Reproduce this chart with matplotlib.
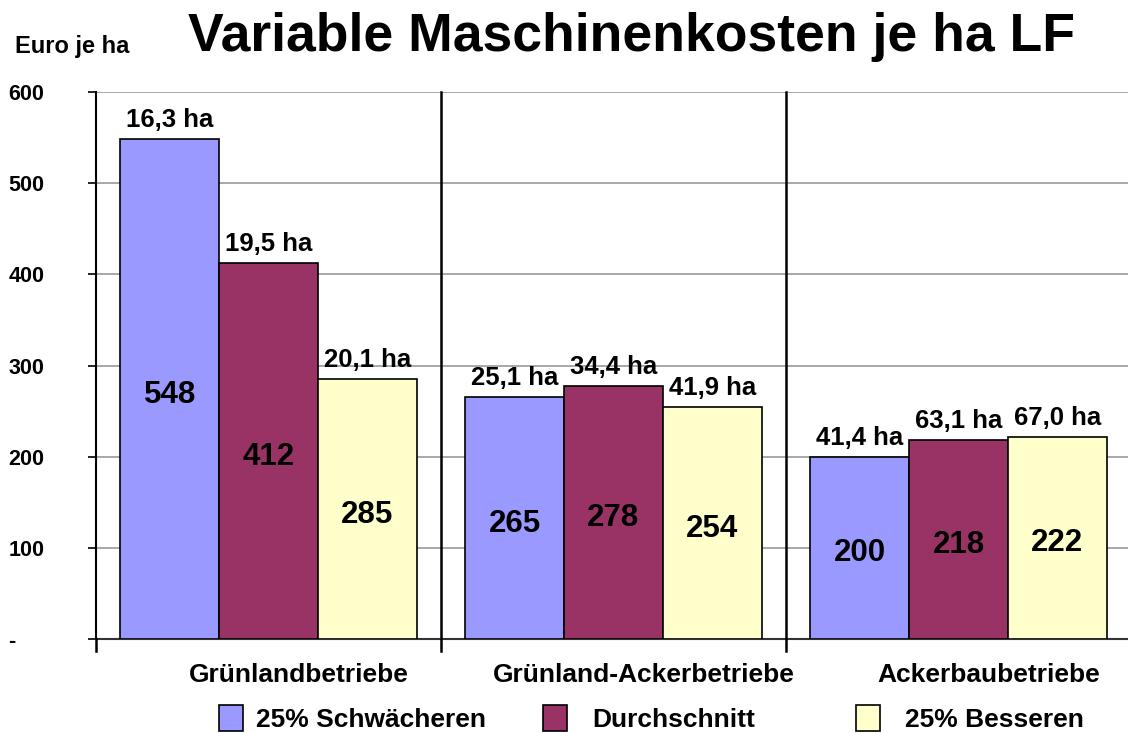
import matplotlib
matplotlib.use("Agg")
import matplotlib.pyplot as plt
import matplotlib.transforms as mtransforms
from matplotlib.patches import Rectangle
import numpy as np

plt.rcParams['font.family'] = ['Liberation Sans', 'DejaVu Sans']
plt.rcParams['font.weight'] = 'bold'

categories = ["Grünlandbetriebe", "Grünland-Ackerbetriebe", "Ackerbaubetriebe"]
series_names = ["25% Schwächeren", "Durchschnitt", "25% Besseren"]
schwaecheren = [548, 265, 200]
durchschnitt = [412, 278, 218]
besseren = [285, 254, 222]
flaechen = [["16,3 ha", "19,5 ha", "20,1 ha"],
            ["25,1 ha", "34,4 ha", "41,9 ha"],
            ["41,4 ha", "63,1 ha", "67,0 ha"]]
yticks = [0, 100, 200, 300, 400, 500, 600]
ytick_labels = ["-", "100", "200", "300", "400", "500", "600"]
colors = ["#9999FF", "#993366", "#FFFFCC"]

W, H = 1128, 733
fig = plt.figure(figsize=(W / 100, H / 100), dpi=100)
left_px, right_px, top_px, bot_px = 96, 1131, 92, 639
ax = fig.add_axes([left_px / W, 1 - bot_px / H, (right_px - left_px) / W, (bot_px - top_px) / H])
ax.set_xlim(-0.5, 2.5)
ax.set_ylim(0, 600)

x = np.arange(len(categories))
bw = 0.286
series = [schwaecheren, durchschnitt, besseren]
for i, (vals, col) in enumerate(zip(series, colors)):
    xs = x + (i - 1) * bw
    ax.bar(xs, vals, width=bw, color=col, edgecolor="black", linewidth=1.2, zorder=3)
    for j, v in enumerate(vals):
        ax.annotate(str(v), (xs[j], v / 2), xytext=(0, -4), textcoords="offset points",
                    ha="center", va="center", fontsize=22.5, fontweight="bold", zorder=4)
        ax.annotate(flaechen[j][i], (xs[j], v), xytext=(0, 5), textcoords="offset points",
                    ha="center", va="bottom", fontsize=18.5, fontweight="bold", zorder=4)

# grid
for yv in yticks[1:]:
    ax.axhline(yv, color="#999999", linewidth=1.2, zorder=1)

# spines
for s in ["top", "right"]:
    ax.spines[s].set_visible(False)
ax.spines["left"].set_linewidth(1.5)
ax.spines["bottom"].set_linewidth(1.5)
ax.spines["bottom"].set_color("#333333")

ax.set_yticks(yticks)
ax.set_yticklabels(ytick_labels, fontsize=15.5, fontweight="bold")
ax.tick_params(axis="y", length=6, width=1.2, pad=57)
for lbl in ax.get_yticklabels():
    lbl.set_horizontalalignment("left")

ax.set_xticks(x)
ax.set_xticklabels(categories, fontsize=19, fontweight="bold")
ax.tick_params(axis="x", length=0, pad=17)
shift = mtransforms.ScaledTranslation(30 / 100, 0, fig.dpi_scale_trans)
for lbl in ax.get_xticklabels():
    lbl.set_transform(lbl.get_transform() + shift)

# group separators and extended left spine
for xb in [-0.5, 0.5, 1.5]:
    ax.plot([xb, xb], [-0.022, 1.0 if xb > -0.5 else 0.0], transform=ax.get_xaxis_transform(),
            color="black", linewidth=1.8, clip_on=False, zorder=5)

# title and unit
fig.text(631 / W, 1 - 37 / H, "Variable Maschinenkosten je ha LF", ha="center", va="center",
         fontsize=38.5, fontweight="bold")
fig.text(15 / W, 1 - 47 / H, "Euro je ha", ha="left", va="center", fontsize=17, fontweight="bold")

# legend
leg_items = [(219, 256), (543, 592), (856, 905)]
for (sx, tx), name, col in zip(leg_items, series_names, colors):
    fig.patches.append(Rectangle((sx / W, 1 - 731 / H), 24 / W, 26 / H, transform=fig.transFigure,
                                 facecolor=col, edgecolor="black", linewidth=1.2))
    fig.text(tx / W, 1 - 720 / H, name, ha="left", va="center", fontsize=19, fontweight="bold")

fig.savefig("out.png", dpi=100)
